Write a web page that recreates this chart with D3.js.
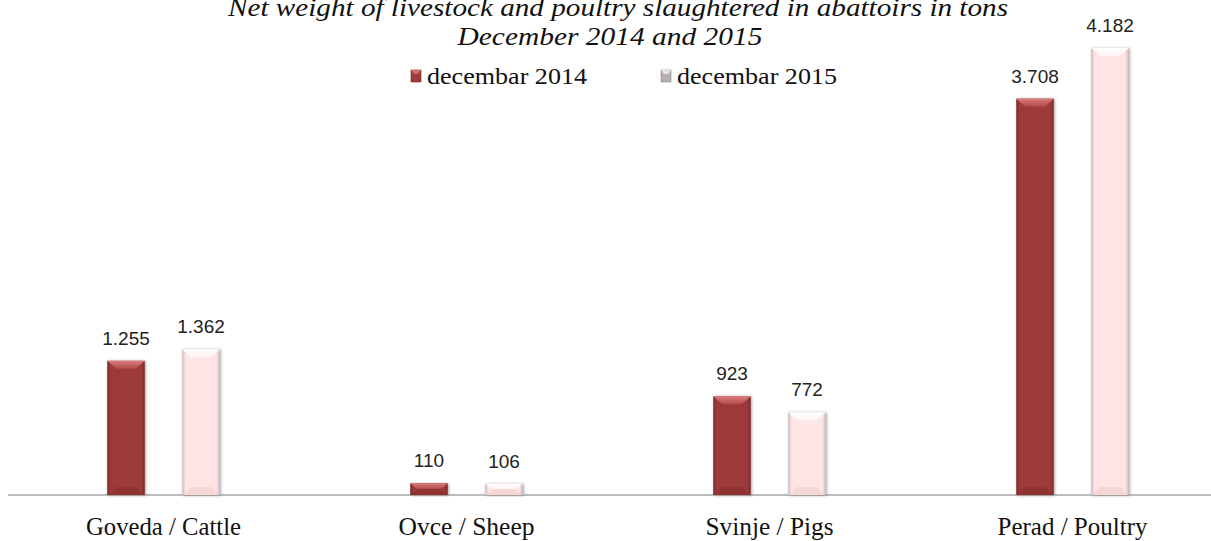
<!DOCTYPE html>
<html>
<head>
<meta charset="utf-8">
<script src="https://cdnjs.cloudflare.com/ajax/libs/d3/7.8.5/d3.min.js"></script>
<style>
  html, body { margin: 0; padding: 0; background: #fff; }
  svg { display: block; }
</style>
</head>
<body>
<svg id="chart" width="1211" height="541"></svg>
<script>
"use strict";
var categories = ["Goveda / Cattle", "Ovce / Sheep", "Svinje / Pigs", "Perad / Poultry"];
var seriesNames = ["decembar 2014", "decembar 2015"];
var values2014 = [1255, 110, 923, 3708];
var values2015 = [1362, 106, 772, 4182];
var titleLines = ["Net weight of livestock and poultry slaughtered in abattoirs in tons", "December 2014 and 2015"];

var W = 1211, H = 541;
var baseY = 495;
var svg = d3.select("#chart");

// thousands separator is a dot in the source
var fmt = d3.formatLocale({ decimal: ",", thousands: ".", grouping: [3], currency: ["", ""] }).format(",d");

var x = d3.scaleBand().domain(categories).range([12, 1224]);
var xs = d3.scaleBand().domain(seriesNames).range([-75, 75]).paddingInner(0.5).paddingOuter(0.25);
var y = d3.scaleLinear().domain([0, 4500]).range([baseY, 14]);

var palettes = {
    "decembar 2014": { body: "#9d3a3a", edge: "#7b2828", top: "#dc7d7b", topEnd: "#b04a49", bottom: "#8a3030" },
    "decembar 2015": { body: "#fde5e5", edge: "#cdb9b9", top: "#ffffff", topEnd: "#fff2f2", bottom: "#f1d0d0" }
};

var defs = svg.append("defs");
var filt = defs.append("filter").attr("id", "shadow")
    .attr("x", "-30%").attr("y", "-10%").attr("width", "160%").attr("height", "120%");
filt.append("feDropShadow").attr("dx", 1).attr("dy", 0.5).attr("stdDeviation", 1.6)
    .attr("flood-color", "#555").attr("flood-opacity", 0.55);

seriesNames.forEach(function (s, i) {
    var p = palettes[s];
    var gh = defs.append("linearGradient").attr("id", "side" + i).attr("x1", 0).attr("x2", 1).attr("y1", 0).attr("y2", 0);
    gh.append("stop").attr("offset", 0).attr("stop-color", p.edge);
    gh.append("stop").attr("offset", 0.09).attr("stop-color", p.body);
    gh.append("stop").attr("offset", 0.91).attr("stop-color", p.body);
    gh.append("stop").attr("offset", 1).attr("stop-color", p.edge);
    var gt = defs.append("linearGradient").attr("id", "top" + i).attr("x1", 0).attr("x2", 0).attr("y1", 0).attr("y2", 1);
    gt.append("stop").attr("offset", 0).attr("stop-color", p.top);
    gt.append("stop").attr("offset", 1).attr("stop-color", p.topEnd);
});

// baseline
svg.append("line")
    .attr("x1", 8).attr("x2", W).attr("y1", baseY).attr("y2", baseY)
    .attr("stroke", "#a6a6a6").attr("stroke-width", 1.5);

function drawBar(g, bx, by, w, h, si) {
    var p = palettes[seriesNames[si]];
    var b = Math.min(8, h / 2);
    var bar = g.append("g").attr("filter", "url(#shadow)");
    bar.append("rect").attr("x", bx).attr("y", by).attr("width", w).attr("height", h)
        .attr("fill", "url(#side" + si + ")");
    bar.append("polygon")
        .attr("points", [[bx, by], [bx + w, by], [bx + w - b - 1, by + b], [bx + b + 1, by + b]].join(" "))
        .attr("fill", "url(#top" + si + ")");
    bar.append("polygon")
        .attr("points", [[bx + 1, by + h], [bx + w - 1, by + h], [bx + w - b - 1, by + h - b], [bx + b + 1, by + h - b]].join(" "))
        .attr("fill", p.bottom).attr("opacity", 0.7);
}

var groups = svg.selectAll("g.cat")
    .data(categories)
    .enter().append("g")
    .attr("class", "cat")
    .attr("transform", function (d) { return "translate(" + (x(d) + x.bandwidth() / 2) + ",0)"; });

groups.each(function (d, ci) {
    var g = d3.select(this);
    [values2014, values2015].forEach(function (vals, si) {
        var v = vals[ci];
        var bx = xs(seriesNames[si]);
        var top = y(v);
        drawBar(g, bx, top, xs.bandwidth(), baseY - top, si);
        g.append("text")
            .attr("x", bx + xs.bandwidth() / 2)
            .attr("y", top - 16)
            .attr("text-anchor", "middle")
            .attr("font-family", "'Liberation Sans', Arial, sans-serif")
            .attr("font-size", 19)
            .attr("fill", "#222")
            .text(fmt(v));
    });
});

// category labels
var catWidths = [155, 136, 128, 150];
groups.append("text")
    .attr("x", 0).attr("y", 535)
    .attr("text-anchor", "middle")
    .attr("font-family", "'Liberation Serif', 'Times New Roman', serif")
    .attr("font-size", 25)
    .attr("fill", "#111")
    .attr("textLength", function (d, i) { return catWidths[i]; })
    .attr("lengthAdjust", "spacingAndGlyphs")
    .text(function (d) { return d; });

// title
var titleY = [16, 45], titleX = [618, 610], titleW = [780, 305];
svg.selectAll("text.title")
    .data(titleLines)
    .enter().append("text")
    .attr("class", "title")
    .attr("x", function (d, i) { return titleX[i]; })
    .attr("y", function (d, i) { return titleY[i]; })
    .attr("text-anchor", "middle")
    .attr("font-family", "'Liberation Serif', 'Times New Roman', serif")
    .attr("font-style", "italic")
    .attr("font-size", 26)
    .attr("fill", "#111")
    .attr("textLength", function (d, i) { return titleW[i]; })
    .attr("lengthAdjust", "spacingAndGlyphs")
    .text(function (d) { return d; });

// legend
var legendX = [411, 661];
var legend = svg.selectAll("g.legend")
    .data(seriesNames)
    .enter().append("g")
    .attr("class", "legend")
    .attr("transform", function (d, i) { return "translate(" + legendX[i] + ",70)"; });
legend.append("rect")
    .attr("width", 10).attr("height", 12)
    .attr("fill", function (d, i) { return i === 0 ? "#9d3a3a" : "#b5b0b0"; })
    .attr("stroke", function (d, i) { return i === 0 ? "#7b2828" : "#8f8a8a"; })
    .attr("stroke-width", 0.6);
legend.append("polygon")
    .attr("points", "0,0 10,0 7,4 3,4")
    .attr("fill", function (d, i) { return i === 0 ? "#cf6a69" : "#e8e4e4"; });
legend.append("text")
    .attr("x", 16).attr("y", 14)
    .attr("font-family", "'Liberation Serif', 'Times New Roman', serif")
    .attr("font-size", 24)
    .attr("fill", "#111")
    .attr("textLength", 160)
    .attr("lengthAdjust", "spacingAndGlyphs")
    .text(function (d) { return d; });
</script>
</body>
</html>
